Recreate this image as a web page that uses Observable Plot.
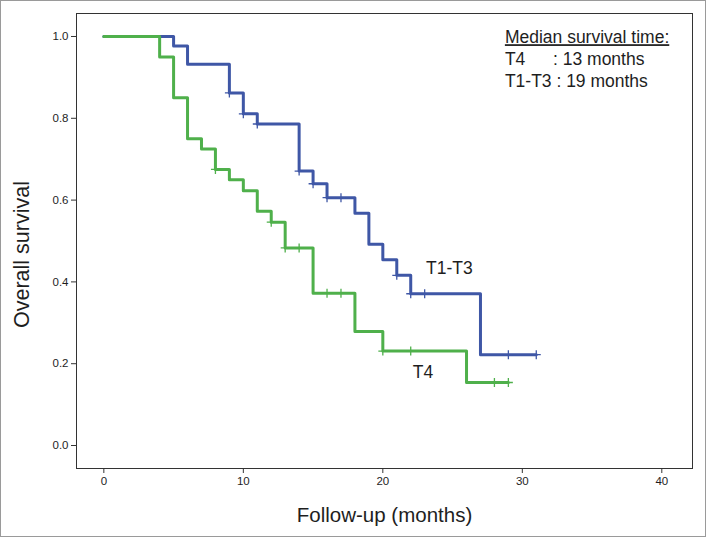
<!DOCTYPE html>
<html>
<head>
<meta charset="utf-8">
<script src="https://cdn.jsdelivr.net/npm/d3@7"></script>
<script src="https://cdn.jsdelivr.net/npm/@observablehq/plot@0.6"></script>
<style>
  html, body { margin: 0; padding: 0; background: #fff; }
  #chart svg { display: block; outline: 1px solid #9a9a9a; outline-offset: -1px; }
</style>
</head>
<body>
<div id="chart"></div>
<script>
// ---- data ----
const groups = ["T1-T3", "T4"];
const colors = ["#3f57a6", "#4fb04b"];

// T1-T3 Kaplan-Meier steps
const t13Time = [0, 5, 6, 9, 10, 11, 14, 15, 16, 18, 19, 20, 21, 22, 27, 31];
const t13Surv = [1, 0.977, 0.932, 0.862, 0.811, 0.786, 0.671, 0.640, 0.606, 0.568, 0.492, 0.454, 0.416, 0.371, 0.222, 0.222];
const t13CensTime = [9, 10, 11, 14, 15, 16, 17, 21, 22, 23, 29, 31];
const t13CensSurv = [0.862, 0.811, 0.786, 0.671, 0.640, 0.606, 0.606, 0.416, 0.371, 0.371, 0.222, 0.222];

// T4 Kaplan-Meier steps
const t4Time = [0, 4, 5, 6, 7, 8, 9, 10, 11, 12, 13, 15, 18, 20, 26, 29];
const t4Surv = [1, 0.95, 0.85, 0.75, 0.725, 0.675, 0.65, 0.623, 0.573, 0.546, 0.483, 0.372, 0.279, 0.231, 0.154, 0.154];
const t4CensTime = [8, 12, 13, 14, 16, 17, 20, 22, 28, 29];
const t4CensSurv = [0.675, 0.546, 0.483, 0.483, 0.372, 0.372, 0.231, 0.231, 0.154, 0.154];

const xTicks = [0, 10, 20, 30, 40];
const yTicks = [0, 0.2, 0.4, 0.6, 0.8, 1.0];

const xLabel = "Follow-up (months)";
const yLabel = "Overall survival";
const legendTitle = "Median survival time:";
const legendRows = [["T4", ": 13 months"], ["T1-T3", ": 19 months"]];
const curveLabels = ["T1-T3", "T4"];

// ---- build tables ----
const steps = [
  ...t13Time.map((t, i) => ({group: groups[0], time: t, surv: t13Surv[i]})),
  ...t4Time.map((t, i) => ({group: groups[1], time: t, surv: t4Surv[i]}))
];
const censors = [
  ...t13CensTime.map((t, i) => ({group: groups[0], time: t, surv: t13CensSurv[i]})),
  ...t4CensTime.map((t, i) => ({group: groups[1], time: t, surv: t4CensSurv[i]}))
];
const ink = "#1e1e1e";
const font = "Liberation Sans, Arial, Helvetica, sans-serif";
const lg = {textAnchor: "start", lineAnchor: "bottom", fontSize: 17.5, fill: ink};

const chart = Plot.plot({
  width: 706,
  height: 537,
  marginLeft: 76,
  marginRight: 14,
  marginTop: 13,
  marginBottom: 69,
  style: {fontFamily: font, fontSize: "11.5px", color: ink, background: "#fff"},
  x: {domain: [-1.96, 42.2]},
  y: {domain: [-0.0562, 1.0562]},
  marks: [
    Plot.frame({stroke: "#333", strokeWidth: 1}),
    Plot.axisX({ticks: xTicks, tickSize: 5, tickPadding: 3, label: null, stroke: "#333", fill: ink, fontSize: 11.5}),
    Plot.axisY({ticks: yTicks, tickFormat: ".1f", tickSize: 5, tickPadding: 3, label: null, stroke: "#333", fill: ink, fontSize: 11.5}),
    Plot.line(steps.filter(d => d.group === groups[0]), {x: "time", y: "surv", curve: "step-after", stroke: colors[0], strokeWidth: 3}),
    Plot.dot(censors.filter(d => d.group === groups[0]), {x: "time", y: "surv", symbol: "plus", r: 3, stroke: colors[0], strokeWidth: 1.3}),
    Plot.line(steps.filter(d => d.group === groups[1]), {x: "time", y: "surv", curve: "step-after", stroke: colors[1], strokeWidth: 3}),
    Plot.dot(censors.filter(d => d.group === groups[1]), {x: "time", y: "surv", symbol: "plus", r: 3, stroke: colors[1], strokeWidth: 1.3}),
    // curve labels
    Plot.text([curveLabels[0]], {x: 23.1, y: 0.4205, text: d => d, ...lg}),
    Plot.text([curveLabels[1]], {x: 22.15, y: 0.1655, text: d => d, ...lg}),
    // legend
    Plot.text([legendTitle], {x: 28.75, y: 0.9836, text: d => d, ...lg}),
    Plot.text([legendRows[0][0]], {x: 28.75, y: 0.9299, text: d => d, ...lg}),
    Plot.text([legendRows[0][1]], {x: 32.2, y: 0.9299, text: d => d, ...lg}),
    Plot.text([legendRows[1][0] + " " + legendRows[1][1]], {x: 28.75, y: 0.876, text: d => d, ...lg}),
    // axis titles
    Plot.text([yLabel], {x: -5.83, y: 0.467, rotate: -90, text: d => d, fontSize: 21.5, fill: ink}),
    Plot.text([xLabel], {frameAnchor: "bottom", dy: 53, text: d => d, fontSize: 20.5, fill: ink})
  ]
});
for (const el of chart.querySelectorAll("text")) {
  if (el.textContent === legendTitle) el.style.textDecoration = "underline";
}
document.getElementById("chart").append(chart);
</script>
</body>
</html>
